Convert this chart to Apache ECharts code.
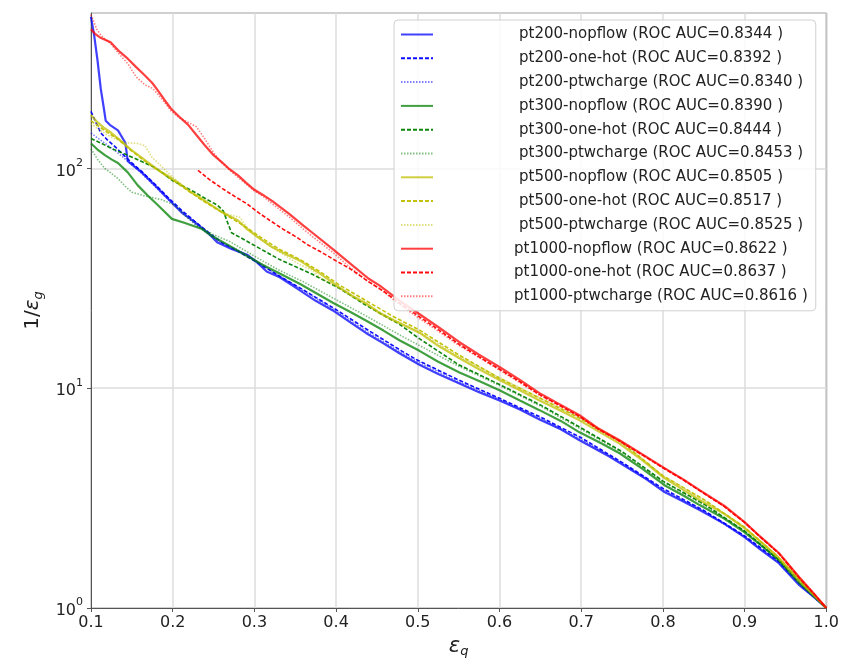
<!DOCTYPE html>
<html>
<head>
<meta charset="utf-8">
<script src="https://cdn.jsdelivr.net/npm/echarts@6/dist/echarts.min.js"></script>
<style>
html,body{margin:0;padding:0;background:#fff;}
#chart{width:842px;height:663px;}
</style>
</head>
<body>
<div id="chart"></div>
<script>
// ---- data: [eps_q, 1/eps_g] ----
const xTicks = [0.1,0.2,0.3,0.4,0.5,0.6,0.7,0.8,0.9,1.0];
const yTicks = [1,10,100];

const pt200_nopflow = [[0.1,490],[0.104,400],[0.108,310],[0.112,230],[0.116,185],[0.118,165],[0.123,158],[0.133,149],[0.142,131],[0.145,108],[0.162,96],[0.178,84],[0.194,73],[0.211,63],[0.227,57],[0.243,51],[0.255,46],[0.272,43],[0.291,40.5],[0.303,37.5],[0.315,34],[0.331,32],[0.352,28.5],[0.375,25],[0.396,22.6],[0.417,20],[0.437,17.8],[0.458,16],[0.478,14.4],[0.502,12.8],[0.525,11.6],[0.551,10.5],[0.575,9.6],[0.6,8.8],[0.625,8.0],[0.649,7.2],[0.675,6.5],[0.698,5.8],[0.734,4.9],[0.759,4.3],[0.78,3.85],[0.802,3.37],[0.825,3.05],[0.845,2.79],[0.875,2.42],[0.9,2.1],[0.92,1.84],[0.942,1.6],[0.967,1.27],[0.985,1.12],[1.0,1.0]];
const pt200_onehot = [[0.1,182],[0.105,165],[0.112,145],[0.12,135],[0.13,125],[0.14,115],[0.15,106],[0.162,97],[0.178,85],[0.194,74],[0.211,64.5],[0.227,57.5],[0.243,51.5],[0.26,46],[0.28,42],[0.3,38],[0.33,32.5],[0.36,28],[0.4,22.8],[0.44,18.3],[0.48,14.8],[0.5,13.4],[0.55,10.9],[0.6,9.0],[0.65,7.4],[0.7,5.95],[0.75,4.6],[0.8,3.5],[0.85,2.78],[0.9,2.13],[0.94,1.65],[0.97,1.26],[1.0,1.0]];
const pt200_ptwcharge = [[0.1,145],[0.11,136],[0.12,128],[0.13,120],[0.14,112],[0.15,104],[0.162,95],[0.178,83],[0.194,72.5],[0.211,63.5],[0.227,56],[0.243,50.5],[0.26,46],[0.28,42.5],[0.3,38.5],[0.33,32.5],[0.36,27.8],[0.4,22.5],[0.44,17.9],[0.48,14.5],[0.5,13.2],[0.55,10.7],[0.6,8.9],[0.65,7.3],[0.7,5.85],[0.75,4.55],[0.8,3.45],[0.85,2.75],[0.9,2.1],[0.94,1.63],[0.97,1.25],[1.0,1.0]];

const pt300_nopflow = [[0.1,130],[0.108,122],[0.117,115],[0.125,110],[0.133,106],[0.145,96],[0.157,84],[0.17,75],[0.182,68],[0.199,59],[0.215,56.5],[0.236,53],[0.249,49],[0.265,45.5],[0.291,40],[0.31,36.5],[0.331,33.3],[0.356,29.8],[0.38,26.5],[0.396,24.5],[0.417,22.3],[0.437,20.3],[0.458,18.3],[0.478,16.5],[0.502,14.8],[0.525,13.2],[0.551,11.8],[0.575,10.8],[0.6,9.8],[0.625,8.8],[0.649,7.95],[0.675,7.1],[0.698,6.3],[0.725,5.6],[0.747,5.06],[0.775,4.3],[0.802,3.62],[0.825,3.25],[0.845,2.94],[0.875,2.55],[0.9,2.21],[0.92,1.93],[0.942,1.65],[0.967,1.3],[0.985,1.13],[1.0,1.0]];
const pt300_onehot = [[0.1,137],[0.113,130],[0.126,123],[0.14,117],[0.154,111],[0.166,106],[0.178,101],[0.19,94],[0.2,88],[0.213,83],[0.227,78],[0.24,73],[0.255,68],[0.262,64],[0.267,57],[0.272,51],[0.285,48],[0.303,44],[0.331,38.5],[0.371,33],[0.404,28.5],[0.437,23.8],[0.478,19.5],[0.5,17.0],[0.55,12.8],[0.6,10.4],[0.65,8.4],[0.7,6.6],[0.75,5.15],[0.8,3.78],[0.85,2.98],[0.9,2.24],[0.94,1.68],[0.97,1.3],[1.0,1.0]];
const pt300_ptwcharge = [[0.1,123],[0.108,110],[0.117,100],[0.125,95],[0.133,90],[0.142,83],[0.15,78],[0.166,75],[0.187,72],[0.203,68],[0.215,61],[0.23,55],[0.25,50],[0.27,46.5],[0.29,42],[0.31,38],[0.33,34.5],[0.36,30.5],[0.4,25.3],[0.44,21],[0.48,17.3],[0.5,15.8],[0.55,12.6],[0.6,10.3],[0.65,8.3],[0.7,6.5],[0.75,5.1],[0.8,3.75],[0.85,2.95],[0.9,2.24],[0.94,1.68],[0.97,1.3],[1.0,1.0]];

const pt500_nopflow = [[0.1,175],[0.108,162],[0.117,152],[0.125,145],[0.133,137],[0.142,128],[0.15,121],[0.162,112],[0.175,103],[0.187,96],[0.199,90],[0.209,85],[0.22,79],[0.233,74],[0.245,69],[0.261,63],[0.28,58],[0.291,53],[0.305,48.5],[0.322,43.8],[0.34,40.5],[0.356,38],[0.38,33.3],[0.404,28.8],[0.42,26.3],[0.437,24.3],[0.453,22],[0.469,20.5],[0.485,19.2],[0.502,17.9],[0.525,15.6],[0.551,13.7],[0.575,12.2],[0.6,10.9],[0.625,9.8],[0.649,8.8],[0.675,7.9],[0.698,7.14],[0.72,6.4],[0.747,5.6],[0.775,4.7],[0.802,3.9],[0.825,3.45],[0.845,3.1],[0.875,2.68],[0.9,2.31],[0.92,2.0],[0.942,1.69],[0.967,1.33],[0.985,1.14],[1.0,1.0]];
const pt500_onehot = [[0.1,165],[0.11,155],[0.12,146],[0.133,136],[0.15,120],[0.166,108],[0.182,98],[0.199,89],[0.215,81],[0.233,73],[0.25,66.5],[0.27,60],[0.29,54],[0.31,48],[0.33,43],[0.356,38.5],[0.38,34],[0.404,29.5],[0.437,25],[0.469,21.3],[0.502,18.4],[0.55,14.2],[0.6,11.1],[0.65,9.0],[0.7,7.25],[0.75,5.65],[0.8,4.0],[0.85,3.12],[0.9,2.33],[0.94,1.72],[0.97,1.32],[1.0,1.0]];
const pt500_ptwcharge = [[0.1,160],[0.11,150],[0.12,142],[0.13,136],[0.142,131],[0.157,130],[0.166,127],[0.175,112],[0.182,106],[0.199,92],[0.215,82],[0.233,73],[0.25,67],[0.266,62],[0.282,60],[0.294,52],[0.31,47],[0.322,43.8],[0.343,39],[0.356,36.5],[0.371,34.5],[0.38,32],[0.404,28.5],[0.437,24],[0.469,20.7],[0.502,18],[0.55,14],[0.6,11.2],[0.65,9.0],[0.7,7.3],[0.75,5.7],[0.8,4.0],[0.85,3.1],[0.9,2.33],[0.94,1.72],[0.97,1.32],[1.0,1.0]];

const pt1000_nopflow = [[0.1,430],[0.105,410],[0.111,395],[0.124,375],[0.135,340],[0.145,316],[0.155,290],[0.166,265],[0.175,245],[0.182,226],[0.19,205],[0.198,187],[0.208,172],[0.219,158],[0.229,142],[0.239,128],[0.25,115],[0.26,107],[0.27,99],[0.28,93],[0.29,86],[0.3,80],[0.31,76],[0.322,71],[0.343,62],[0.36,55],[0.371,51],[0.396,43],[0.417,37],[0.44,31.5],[0.453,29.4],[0.478,25],[0.5,22],[0.525,19],[0.551,16.2],[0.575,14.2],[0.6,12.5],[0.625,10.9],[0.649,9.5],[0.675,8.4],[0.698,7.54],[0.72,6.6],[0.747,5.8],[0.775,5.0],[0.802,4.33],[0.825,3.85],[0.845,3.44],[0.875,2.92],[0.9,2.46],[0.92,2.1],[0.942,1.78],[0.967,1.38],[0.985,1.16],[1.0,1.0]];
const pt1000_onehot = [[0.231,98],[0.245,89],[0.261,81],[0.275,75],[0.291,69],[0.305,63],[0.319,58],[0.335,53],[0.352,48.6],[0.365,45],[0.38,42],[0.4,38],[0.417,35],[0.44,30.5],[0.46,27.3],[0.478,24.3],[0.5,21.4],[0.525,18.5],[0.551,15.8],[0.575,13.9],[0.6,12.2],[0.625,10.7],[0.649,9.35],[0.675,8.3],[0.698,7.45],[0.72,6.55],[0.747,5.75],[0.775,4.97],[0.802,4.3],[0.825,3.83],[0.845,3.42],[0.875,2.9],[0.9,2.45],[0.92,2.09],[0.942,1.77],[0.967,1.37],[0.985,1.16],[1.0,1.0]];
const pt1000_ptwcharge = [[0.1,500],[0.103,470],[0.107,430],[0.113,400],[0.124,370],[0.135,330],[0.145,300],[0.155,262],[0.166,240],[0.175,232],[0.182,218],[0.19,200],[0.198,183],[0.208,170],[0.219,162],[0.229,155],[0.239,137],[0.25,118],[0.26,106],[0.27,98],[0.28,91],[0.29,85],[0.3,79],[0.31,75],[0.322,69],[0.343,60],[0.36,53],[0.371,49],[0.396,41.5],[0.417,35.5],[0.44,30.5],[0.453,28.5],[0.478,24],[0.5,21],[0.525,18.2],[0.551,15.6],[0.575,13.8],[0.6,12.1],[0.625,10.6],[0.649,9.3],[0.675,8.25],[0.698,7.4],[0.72,6.5],[0.747,5.72],[0.775,4.95],[0.802,4.3],[0.825,3.82],[0.845,3.42],[0.875,2.9],[0.9,2.45],[0.92,2.09],[0.942,1.77],[0.967,1.37],[0.985,1.16],[1.0,1.0]];

const seriesNames = [
  'pt200-nopflow (ROC AUC=0.8344 )','pt200-one-hot (ROC AUC=0.8392 )','pt200-ptwcharge (ROC AUC=0.8340 )',
  'pt300-nopflow (ROC AUC=0.8390 )','pt300-one-hot (ROC AUC=0.8444 )','pt300-ptwcharge (ROC AUC=0.8453 )',
  'pt500-nopflow (ROC AUC=0.8505 )','pt500-one-hot (ROC AUC=0.8517 )','pt500-ptwcharge (ROC AUC=0.8525 )',
  'pt1000-nopflow (ROC AUC=0.8622 )','pt1000-one-hot (ROC AUC=0.8637 )','pt1000-ptwcharge (ROC AUC=0.8616 )'
];
const seriesData = [pt200_nopflow,pt200_onehot,pt200_ptwcharge,pt300_nopflow,pt300_onehot,pt300_ptwcharge,
  pt500_nopflow,pt500_onehot,pt500_ptwcharge,pt1000_nopflow,pt1000_onehot,pt1000_ptwcharge];
const groupColors = ['#0000ff','#008000','#bfbf00','#ff0000'];

// ---- styles ----
const variantStyle = [
  {type:'solid', width:2.2, opacity:0.75},
  {type:[4,2], width:1.6, opacity:0.95},
  {type:[1.5,1.5], width:1.6, opacity:0.5}
];

const series = seriesData.map((d,i)=>{
  const g = Math.floor(i/3), v = i%3;
  const st = variantStyle[v];
  return {
    name: seriesNames[i],
    type:'line',
    data: d,
    showSymbol:false,
    symbol:'circle',
    symbolSize:0,
    smooth:false,
    z: 2 + i*0.01,
    itemStyle:{color:groupColors[g]},
    lineStyle:{color:groupColors[g], width:st.width, type:st.type, opacity:st.opacity}
  };
});

const chart = echarts.init(document.getElementById('chart'), null, {renderer:'canvas'});
const FONT = 'DejaVu Sans';
chart.setOption({
  animation:false,
  backgroundColor:'#fff',
  textStyle:{fontFamily:FONT},
  grid:{left:91,right:15,top:13,bottom:55,show:true,borderColor:'#555',borderWidth:1,containLabel:false},
  legend:{
    orient:'vertical', left:394, top:20,
    padding:[7,8,7,6],
    itemWidth:32, itemHeight:14, itemGap:8.8,
    backgroundColor:'rgba(255,255,255,0.85)',
    borderColor:'#d0d0d0', borderWidth:1, borderRadius:4,
    itemStyle:{opacity:0},
    data: seriesNames,
    formatter: function(name){
      return name.indexOf('pt1000')===0 ? '{b|'+name+'}' : '{a|'+name+'}';
    },
    textStyle:{
      fontFamily:FONT, fontSize:15, color:'#222', lineHeight:14,
      rich:{
        a:{fontFamily:FONT, fontSize:15, color:'#222', padding:[0,0,0,81]},
        b:{fontFamily:FONT, fontSize:15, color:'#222', padding:[0,0,0,76]}
      }
    }
  },
  xAxis:{
    type:'value', min:0.1, max:1.0, interval:0.1,
    name:'{e|ε}{q|q}', nameLocation:'middle', nameGap:25,
    nameTextStyle:{rich:{
      e:{fontFamily:FONT,fontSize:21,fontStyle:'italic',color:'#222'},
      q:{fontFamily:FONT,fontSize:13,fontStyle:'italic',color:'#222',padding:[10,0,0,0]}
    }},
    axisLine:{show:true,lineStyle:{color:'#555',width:1}},
    axisTick:{show:true,length:4,inside:false,lineStyle:{color:'#555'}},
    axisLabel:{fontFamily:FONT,fontSize:16,color:'#222',margin:7,
      formatter:function(v){return v.toFixed(1);}},
    splitLine:{show:true,lineStyle:{color:'#dcdcdc',width:1.5}}
  },
  yAxis:{
    type:'log', logBase:10, min:1, max:510,
    name:'{a|1/}{e|ε}{g|g}', nameLocation:'middle', nameGap:35,
    nameTextStyle:{rich:{
      a:{fontFamily:FONT,fontSize:20,color:'#222'},
      e:{fontFamily:FONT,fontSize:20,fontStyle:'italic',color:'#222'},
      g:{fontFamily:FONT,fontSize:13,fontStyle:'italic',color:'#222',padding:[10,0,0,0]}
    }},
    axisLine:{show:true,lineStyle:{color:'#555',width:1}},
    axisTick:{show:true,length:4,inside:false,lineStyle:{color:'#555'}},
    minorTick:{show:false},
    axisLabel:{
      fontFamily:FONT, color:'#222', margin:8, showMaxLabel:false,
      formatter:function(v){
        const e = Math.log10(v);
        const r = Math.round(e);
        if (Math.abs(e-r)>1e-6 || yTicks.indexOf(Math.pow(10,r))<0) return '';
        return '{b|10}{s|'+r+'}';
      },
      rich:{
        b:{fontFamily:FONT,fontSize:16,color:'#222',lineHeight:22,verticalAlign:'bottom'},
        s:{fontFamily:FONT,fontSize:11,color:'#222',lineHeight:22,verticalAlign:'top'}
      }
    },
    splitLine:{show:true,lineStyle:{color:'#dcdcdc',width:1.5}}
  },
  series: series
});
</script>
</body>
</html>
